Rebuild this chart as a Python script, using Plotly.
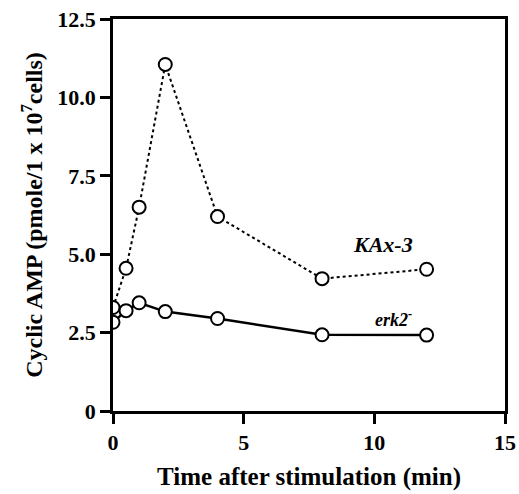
import plotly.graph_objects as go

time_kax3 = [0, 0.5, 1, 2, 4, 8, 12]
camp_kax3 = [3.3, 4.55, 6.5, 11.05, 6.2, 4.22, 4.52]
time_erk2 = [0, 0.5, 1, 2, 4, 8, 12]
camp_erk2 = [2.83, 3.2, 3.45, 3.17, 2.95, 2.43, 2.42]

x_ticks = [0, 5, 10, 15]
x_ticktext = ["0", "5", "10", "15"]
y_ticks = [0, 2.5, 5.0, 7.5, 10.0, 12.5]
y_ticktext = ["0", "2.5", "5.0", "7.5", "10.0", "12.5"]

FONT = "Liberation Serif"

fig = go.Figure()
fig.add_trace(go.Scatter(
    x=time_kax3, y=camp_kax3, mode="lines+markers", name="KAx-3",
    line=dict(color="black", width=2, dash="dot"),
    marker=dict(symbol="circle", size=13, color="white", line=dict(color="black", width=2)),
))
fig.add_trace(go.Scatter(
    x=time_erk2, y=camp_erk2, mode="lines+markers", name="erk2-",
    line=dict(color="black", width=2.5),
    marker=dict(symbol="circle", size=13, color="white", line=dict(color="black", width=2)),
))

fig.add_annotation(x=10.35, y=5.3, text="<i>KAx-3</i>", showarrow=False,
                   font=dict(family=FONT, size=22, color="black", weight="bold"))
fig.add_annotation(x=10.75, y=2.95, text="<i>erk2<sup>-</sup></i>", showarrow=False,
                   font=dict(family=FONT, size=18, color="black", weight="bold"))

tickfont = dict(family=FONT, size=22, color="black", weight="bold")

fig.update_layout(
    width=519, height=494,
    margin=dict(l=113, r=14, t=19, b=83),
    paper_bgcolor="white", plot_bgcolor="white",
    showlegend=False,
    font=dict(family=FONT, color="black"),
    xaxis=dict(
        range=[0, 15], tickvals=x_ticks, ticktext=x_ticktext,
        showgrid=False, zeroline=False, automargin=False,
        showline=True, linecolor="black", linewidth=2.5, mirror=True,
        ticks="outside", ticklen=10, tickwidth=2.5, tickcolor="black",
        tickfont=tickfont,
        title=dict(text="Time after stimulation (min)",
                   font=dict(family=FONT, size=25, color="black", weight="bold"), standoff=14),
    ),
    yaxis=dict(
        range=[0, 12.5], tickvals=y_ticks, ticktext=y_ticktext,
        showgrid=False, zeroline=False, automargin=False,
        showline=True, linecolor="black", linewidth=2.5, mirror=True,
        ticks="outside", ticklen=10, tickwidth=2.5, tickcolor="black",
        tickfont=tickfont,
        title=dict(text="Cyclic AMP (pmole/1 x 10<sup>7</sup>cells)",
                   font=dict(family=FONT, size=24, color="black", weight="bold"), standoff=8),
    ),
)

fig.write_html("out.html", config={"displayModeBar": False},
               post_script="document.body.style.margin='0';")
